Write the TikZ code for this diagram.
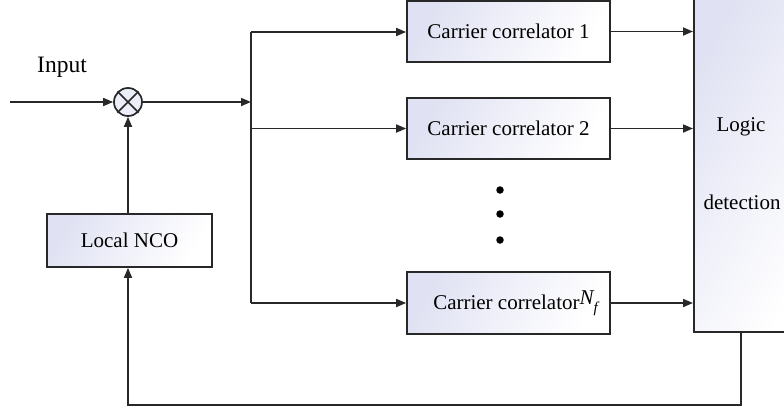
\documentclass[tikz,border=0pt]{standalone}
\usepackage{fontspec}
\setmainfont{Liberation Serif}
\usetikzlibrary{arrows.meta}
\definecolor{lav}{RGB}{224,226,243}
\definecolor{ink}{RGB}{40,40,40}
\newcommand{\blockfont}{\fontsize{21}{25}\selectfont}
\tikzset{
  x=1pt, y=-1pt,
  blockbox/.style={draw=ink, line width=1.7pt, left color=lav, right color=white,
    shading angle=60, inner sep=0pt, font=\blockfont},
  wire/.style={draw=ink, line width=1.7pt},
  arr/.style={wire, -{Triangle[length=10pt,width=8pt]}},
  dotmark/.style={circle, fill=black, inner sep=0pt, minimum size=7.5pt},
}
\begin{document}
\begin{tikzpicture}
\useasboundingbox (0,0) rectangle (784,410);
\clip (0,0) rectangle (784,410);

% correlator bank
\node[blockbox, minimum width=203pt, minimum height=61pt] (c1) at (508.5,31.5) {Carrier correlator 1};
\node[blockbox, minimum width=203pt, minimum height=61pt] (c2) at (508.5,128.5) {Carrier correlator 2};
\node[blockbox, minimum width=203pt, minimum height=62pt] (cn) at (508.5,303)
  {\hspace*{14pt}Carrier correlator\raisebox{0.55ex}{\itshape N}\raisebox{-0.3ex}{\fontsize{15}{16}\selectfont\itshape f}};

% decision block, running past the right edge
\node[blockbox, minimum width=120pt, minimum height=333pt, anchor=north west] (logic) at (693,-2) {};
\node[font=\blockfont] (lg1) at (741,127) {Logic};
\node[font=\blockfont] (lg2) at (742,202) {detection};

% mixer and oscillator
\node[circle, draw=ink, line width=1.7pt, fill=lav!60!white, minimum size=28pt, inner sep=0pt] (mix) at (128,102) {};
\draw[ink, line width=1.7pt] (mix.north west) -- (mix.south east) (mix.north east) -- (mix.south west);
\node[blockbox, minimum width=165pt, minimum height=53pt] (nco) at (129.5,240.5) {Local NCO};

\node[font=\fontsize{23.5}{27}\selectfont] (inlabel) at (62,67) {Input};

\coordinate (src) at (10,102);
\coordinate (bus) at (251,102);
\coordinate (bustop) at (251,32);
\coordinate (busbot) at (251,303);
\coordinate (fbr) at (741,405);
\coordinate (fbl) at (128,405);

% signal path
\draw[arr] (src) -- (mix.west);
\draw[arr] (mix.east) -- (bus);
\draw[wire] (bustop) -- (busbot);
\draw[arr] (bustop) -- (bustop -| c1.west);
\draw[arr] (251,128.5) -- (c2.west);
\draw[arr] (busbot) -- (cn.west);
\draw[arr] (c1.east) -- (c1.east -| logic.west);
\draw[arr] (c2.east) -- (c2.east -| logic.west);
\draw[arr] (cn.east) -- (cn.east -| logic.west);

% feedback loop
\draw[arr] (nco.north -| mix.south) -- (mix.south);
\draw[arr] (fbr |- logic.south) -- (fbr) -- (fbl) -- (fbl |- nco.south);

% ellipsis between correlators
\node[dotmark] (d1) at (500,190) {};
\node[dotmark] (d2) at (500,214) {};
\node[dotmark] (d3) at (500,240) {};
\end{tikzpicture}
\end{document}
